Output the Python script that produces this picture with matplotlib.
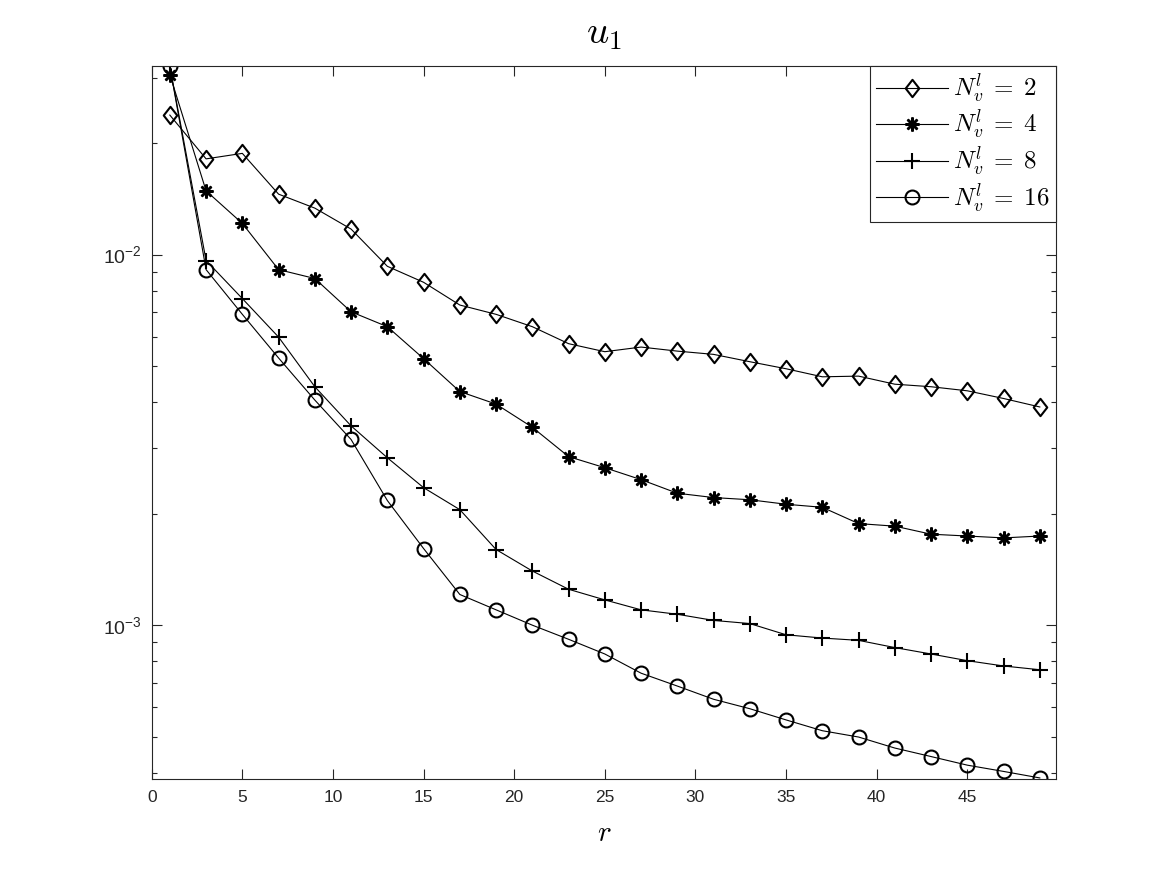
import matplotlib
matplotlib.use("Agg")
import matplotlib.pyplot as plt
from matplotlib.path import Path

plt.rcParams['font.family'] = ['Liberation Sans', 'DejaVu Sans']
plt.rcParams['mathtext.fontset'] = 'cm'

# datos: r impares 1..49
r = list(range(1, 50, 2))

err_n2 = [0.0238, 0.01813, 0.01876, 0.01456, 0.01335, 0.01172, 0.00930, 0.00842,
          0.00731, 0.00690, 0.00639, 0.00575, 0.00547, 0.00563, 0.00549, 0.00538,
          0.00514, 0.00492, 0.00468, 0.00470, 0.00447, 0.00440, 0.00429, 0.00409,
          0.00388]
err_n4 = [0.0306, 0.01486, 0.01214, 0.00911, 0.00862, 0.00701, 0.00639, 0.00524,
          0.00427, 0.00395, 0.00342, 0.00285, 0.00266, 0.00247, 0.00227, 0.00221,
          0.00218, 0.00212, 0.00208, 0.00188, 0.00185, 0.00176, 0.00174, 0.00172,
          0.00174]
err_n8 = [0.0322, 0.00964, 0.00761, 0.00599, 0.00440, 0.00345, 0.00283, 0.00235,
          0.00205, 0.00160, 0.00140, 0.00125, 0.00117, 0.00110, 0.00107, 0.00103,
          0.00101, 0.000942, 0.000923, 0.000910, 0.000870, 0.000836, 0.000802,
          0.000776, 0.000758]
err_n16 = [0.0322, 0.00911, 0.00690, 0.00526, 0.00405, 0.00317, 0.00217, 0.00161,
           0.00121, 0.00110, 0.00100, 0.000916, 0.000836, 0.000742, 0.000685,
           0.000631, 0.000595, 0.000555, 0.000519, 0.000499, 0.000466, 0.000442,
           0.000419, 0.000403, 0.000387]

labels = [r'$N_v^l\;=\;2$', r'$N_v^l\;=\;4$', r'$N_v^l\;=\;8$', r'$N_v^l\;=\;16$']
x_ticks = list(range(0, 50, 5))

# diamante estilo MATLAB (más ancho que 'd' de matplotlib)
diamond = Path([(0, 1), (0.78, 0), (0, -1), (-0.78, 0), (0, 1)],
               [Path.MOVETO, Path.LINETO, Path.LINETO, Path.LINETO, Path.CLOSEPOLY])
asterisk = (8, 2, 0)

fig = plt.figure(figsize=(11.67, 8.75), dpi=100)
ax = fig.add_axes([0.13, 0.11, 0.775, 0.815])

series = [
    (err_n2, dict(marker=diamond, markersize=12.5, markeredgewidth=1.5)),
    (err_n4, dict(marker=asterisk, markersize=10, markeredgewidth=1.8)),
    (err_n8, dict(marker='+', markersize=11, markeredgewidth=1.5)),
    (err_n16, dict(marker='o', markersize=10, markeredgewidth=1.5)),
]
for (vals, mk), lab in zip(series, labels):
    ax.plot(r, vals, color='k', linewidth=0.8, markerfacecolor='none',
            markeredgecolor='k', label=lab, **mk)

ax.set_yscale('log')
all_vals = err_n2 + err_n4 + err_n8 + err_n16
ax.set_ylim(min(all_vals) * 0.995, max(all_vals) * 1.005)
ax.set_xlim(0, 49.9)
ax.set_xticks(x_ticks)

for s in ax.spines.values():
    s.set_color('0.15')
    s.set_linewidth(0.8)
ax.tick_params(which='both', direction='in', top=True, right=True,
               colors='0.15', labelcolor='0.15', width=0.8)
ax.tick_params(which='major', length=7)
ax.tick_params(which='minor', length=3.5)
ax.tick_params(axis='x', pad=8, labelsize=12.5)
ax.tick_params(axis='y', pad=7, labelsize=14)

ax.set_title(r'$u_1$', fontsize=28, pad=16)
ax.set_xlabel(r'$r$', fontsize=21, labelpad=10)

leg = ax.legend(loc='upper right', fontsize=18, fancybox=False, framealpha=1,
                edgecolor='0.15', borderaxespad=0, handlelength=2.9,
                borderpad=0.25, labelspacing=0.1, handletextpad=0.2)
leg.get_frame().set_linewidth(0.8)

fig.savefig("out.png", dpi=100)
plt.close(fig)
